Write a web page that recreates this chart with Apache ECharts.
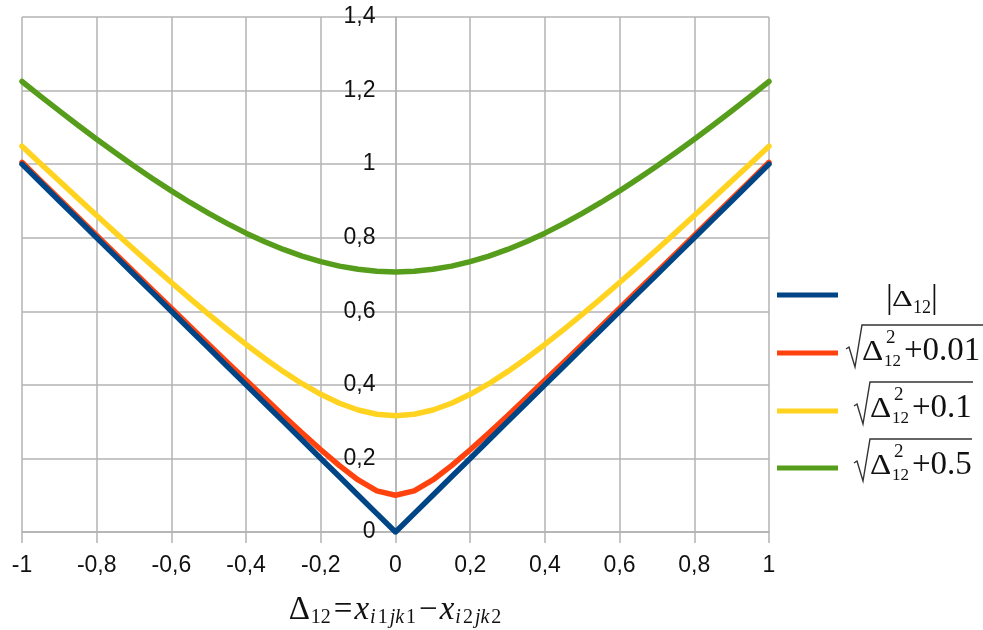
<!DOCTYPE html>
<html>
<head>
<meta charset="utf-8">
<script src="https://cdn.jsdelivr.net/npm/echarts@6/dist/echarts.min.js"></script>
<style>
  html, body { margin: 0; padding: 0; background: #fff; }
  #chart { width: 983px; height: 630px; }
</style>
</head>
<body>
<div id="chart"></div>
<script>
// Sample points of Δ12 (step 0.05)
const deltas = [
  -1, -0.95, -0.9, -0.85, -0.8, -0.75, -0.7, -0.65, -0.6, -0.55, -0.5,
  -0.45, -0.4, -0.35, -0.3, -0.25, -0.2, -0.15, -0.1, -0.05, 0,
  0.05, 0.1, 0.15, 0.2, 0.25, 0.3, 0.35, 0.4, 0.45, 0.5,
  0.55, 0.6, 0.65, 0.7, 0.75, 0.8, 0.85, 0.9, 0.95, 1
];

// |Δ12|
const absValues = [
  1, 0.95, 0.9, 0.85, 0.8, 0.75, 0.7, 0.65, 0.6, 0.55, 0.5,
  0.45, 0.4, 0.35, 0.3, 0.25, 0.2, 0.15, 0.1, 0.05, 0,
  0.05, 0.1, 0.15, 0.2, 0.25, 0.3, 0.35, 0.4, 0.45, 0.5,
  0.55, 0.6, 0.65, 0.7, 0.75, 0.8, 0.85, 0.9, 0.95, 1
];

// sqrt(Δ12² + 0.01)
const smooth001 = [
  1.0050, 0.9552, 0.9055, 0.8559, 0.8062, 0.7566, 0.7071, 0.6576, 0.6083, 0.5590, 0.5099,
  0.4610, 0.4123, 0.3640, 0.3162, 0.2693, 0.2236, 0.1803, 0.1414, 0.1118, 0.1000,
  0.1118, 0.1414, 0.1803, 0.2236, 0.2693, 0.3162, 0.3640, 0.4123, 0.4610, 0.5099,
  0.5590, 0.6083, 0.6576, 0.7071, 0.7566, 0.8062, 0.8559, 0.9055, 0.9552, 1.0050
];

// sqrt(Δ12² + 0.1)
const smooth01 = [
  1.0488, 1.0012, 0.9539, 0.9069, 0.8602, 0.8139, 0.7681, 0.7228, 0.6782, 0.6344, 0.5916,
  0.5500, 0.5099, 0.4717, 0.4359, 0.4031, 0.3742, 0.3500, 0.3317, 0.3202, 0.3162,
  0.3202, 0.3317, 0.3500, 0.3742, 0.4031, 0.4359, 0.4717, 0.5099, 0.5500, 0.5916,
  0.6344, 0.6782, 0.7228, 0.7681, 0.8139, 0.8602, 0.9069, 0.9539, 1.0012, 1.0488
];

// sqrt(Δ12² + 0.5)
const smooth05 = [
  1.2247, 1.1843, 1.1446, 1.1057, 1.0677, 1.0308, 0.9950, 0.9605, 0.9274, 0.8958, 0.8660,
  0.8382, 0.8124, 0.7890, 0.7681, 0.7500, 0.7348, 0.7228, 0.7141, 0.7089, 0.7071,
  0.7089, 0.7141, 0.7228, 0.7348, 0.7500, 0.7681, 0.7890, 0.8124, 0.8382, 0.8660,
  0.8958, 0.9274, 0.9605, 0.9950, 1.0308, 1.0677, 1.1057, 1.1446, 1.1843, 1.2247
];

const seriesNames = ['|Δ12|', '√(Δ12²+0.01)', '√(Δ12²+0.1)', '√(Δ12²+0.5)'];
const seriesColors = ['#004586', '#ff420e', '#ffd320', '#579d1c'];
const seriesValues = [absValues, smooth001, smooth01, smooth05];

const xTicks = { min: -1, max: 1, step: 0.2 };
const yTicks = { min: 0, max: 1.4, step: 0.2 };

const GRID = '#b3b3b3';
const SERIF = '"Liberation Serif", "DejaVu Serif", serif';
const SANS = '"Liberation Sans", Arial, sans-serif';

const PLOT = { left: 22, right: 214, top: 17, bottom: 98 };
const PLOT_WIDTH = 983 - PLOT.left - PLOT.right;

const decimalComma = v => String(Math.round(v * 10) / 10).replace('.', ',');

const series = seriesNames.map((name, i) => ({
  name,
  type: 'line',
  data: deltas.map((d, k) => [d, seriesValues[i][k]]),
  showSymbol: false,
  smooth: false,
  z: 10 - i,
  lineStyle: { color: seriesColors[i], width: 5.5, cap: 'round', join: 'round' },
  itemStyle: { color: seriesColors[i] },
  emphasis: { disabled: true }
}));

// one legend per entry, icons only; the formulas are set as text beside them
const legendRows = [292.5, 350.5, 408.5, 465.5];
const legends = seriesNames.map((name, i) => ({
  data: [name],
  left: 777,
  top: legendRows[i],
  padding: 0,
  orient: 'vertical',
  icon: 'rect',
  itemWidth: 61,
  itemHeight: 5,
  selectedMode: false,
  formatter: () => '',
  textStyle: { fontSize: 5, lineHeight: 5 }
}));

function txt(text, x, y, size, extra, elProps) {
  return Object.assign({
    type: 'text', x, y, silent: true,
    style: Object.assign({
      text, fill: '#111', fontSize: size, fontFamily: SERIF,
      textAlign: 'left', align: 'left',
      textVerticalAlign: 'middle', verticalAlign: 'middle'
    }, extra || {})
  }, elProps || {});
}

function radical(x0, yTop, yBase, xEnd) {
  // hook, descending stroke, rising stroke, vinculum
  return {
    type: 'polyline', silent: true,
    shape: { points: [[x0, yBase - 13], [x0 + 3, yBase - 15], [x0 + 9, yBase + 5], [x0 + 16, yTop], [xEnd, yTop]] },
    style: { stroke: '#333', lineWidth: 1.4, fill: null }
  };
}

function rootEntry(dx, dy, constant, xEnd) {
  return [
    radical(846 + dx, 325 + dy, 362 + dy, xEnd),
    txt('Δ', 862 + dx, 352 + dy, 30, null, { scaleX: 1.1 }),
    txt('2', 886 + dx, 338.5 + dy, 19),
    txt('12', 884 + dx, 362 + dy, 17),
    txt(constant, 904 + dx, 351 + dy, 33)
  ];
}

const legendMath = [
  txt('|', 886, 299, 34),
  txt('Δ', 892, 300, 23, null, { scaleX: 1.4 }),
  txt('12', 913, 308, 18),
  txt('|', 931, 299, 34),
  ...rootEntry(0, 0, '+0.01', 983),
  ...rootEntry(8, 57, '+0.1', 973),
  ...rootEntry(8, 114, '+0.5', 972)
];

const option = {
  backgroundColor: '#ffffff',
  animation: false,
  grid: Object.assign({ containLabel: false, outerBoundsMode: 'none' }, PLOT),
  xAxis: {
    type: 'value',
    min: xTicks.min, max: xTicks.max, interval: xTicks.step,
    name: '{m|Δ}{s|12}{e|=}{i|x}{si|i}{s|1}{si|jk}{s|1}{e|−}{i|x}{si|i}{s|2}{si|jk}{s|2}',
    nameLocation: 'middle',
    nameGap: 60,
    nameTextStyle: {
      rich: {
        m: { fontFamily: SERIF, fontSize: 33, lineHeight: 36, color: '#111', verticalAlign: 'middle' },
        e: { fontFamily: SERIF, fontSize: 33, lineHeight: 36, color: '#111', verticalAlign: 'middle', padding: [0, 2, 0, 2] },
        i: { fontFamily: SERIF, fontSize: 33, fontStyle: 'italic', lineHeight: 36, color: '#111', verticalAlign: 'middle' },
        s: { fontFamily: SERIF, fontSize: 20, lineHeight: 20, color: '#111', verticalAlign: 'bottom', padding: [0, 1, 0, 1] },
        si: { fontFamily: SERIF, fontSize: 20, fontStyle: 'italic', lineHeight: 20, color: '#111', verticalAlign: 'bottom', padding: [0, 1, 0, 1] }
      }
    },
    axisLine: { show: true, onZero: false, lineStyle: { color: GRID, width: 1.5 } },
    axisTick: { show: true, length: 11, lineStyle: { color: GRID, width: 1.5 } },
    axisLabel: { fontFamily: SANS, fontSize: 23, color: '#111', margin: 22, formatter: decimalComma },
    splitLine: { show: true, lineStyle: { color: GRID, width: 1.5 } }
  },
  yAxis: {
    type: 'value',
    min: yTicks.min, max: yTicks.max, interval: yTicks.step,
    // the vertical axis crosses the horizontal one at Δ12 = 0, mid-width
    offset: -PLOT_WIDTH * (0 - xTicks.min) / (xTicks.max - xTicks.min),
    axisLine: { show: true, onZero: false, lineStyle: { color: GRID, width: 1.5 } },
    axisTick: { show: false },
    axisLabel: { fontFamily: SANS, fontSize: 23, color: '#111', margin: 20, formatter: decimalComma },
    splitLine: { show: true, lineStyle: { color: GRID, width: 1.5 } }
  },
  legend: legends,
  tooltip: { show: false },
  series,
  graphic: { elements: legendMath }
};

const chart = echarts.init(document.getElementById('chart'), null, { renderer: 'canvas' });
chart.setOption(option);
</script>
</body>
</html>
